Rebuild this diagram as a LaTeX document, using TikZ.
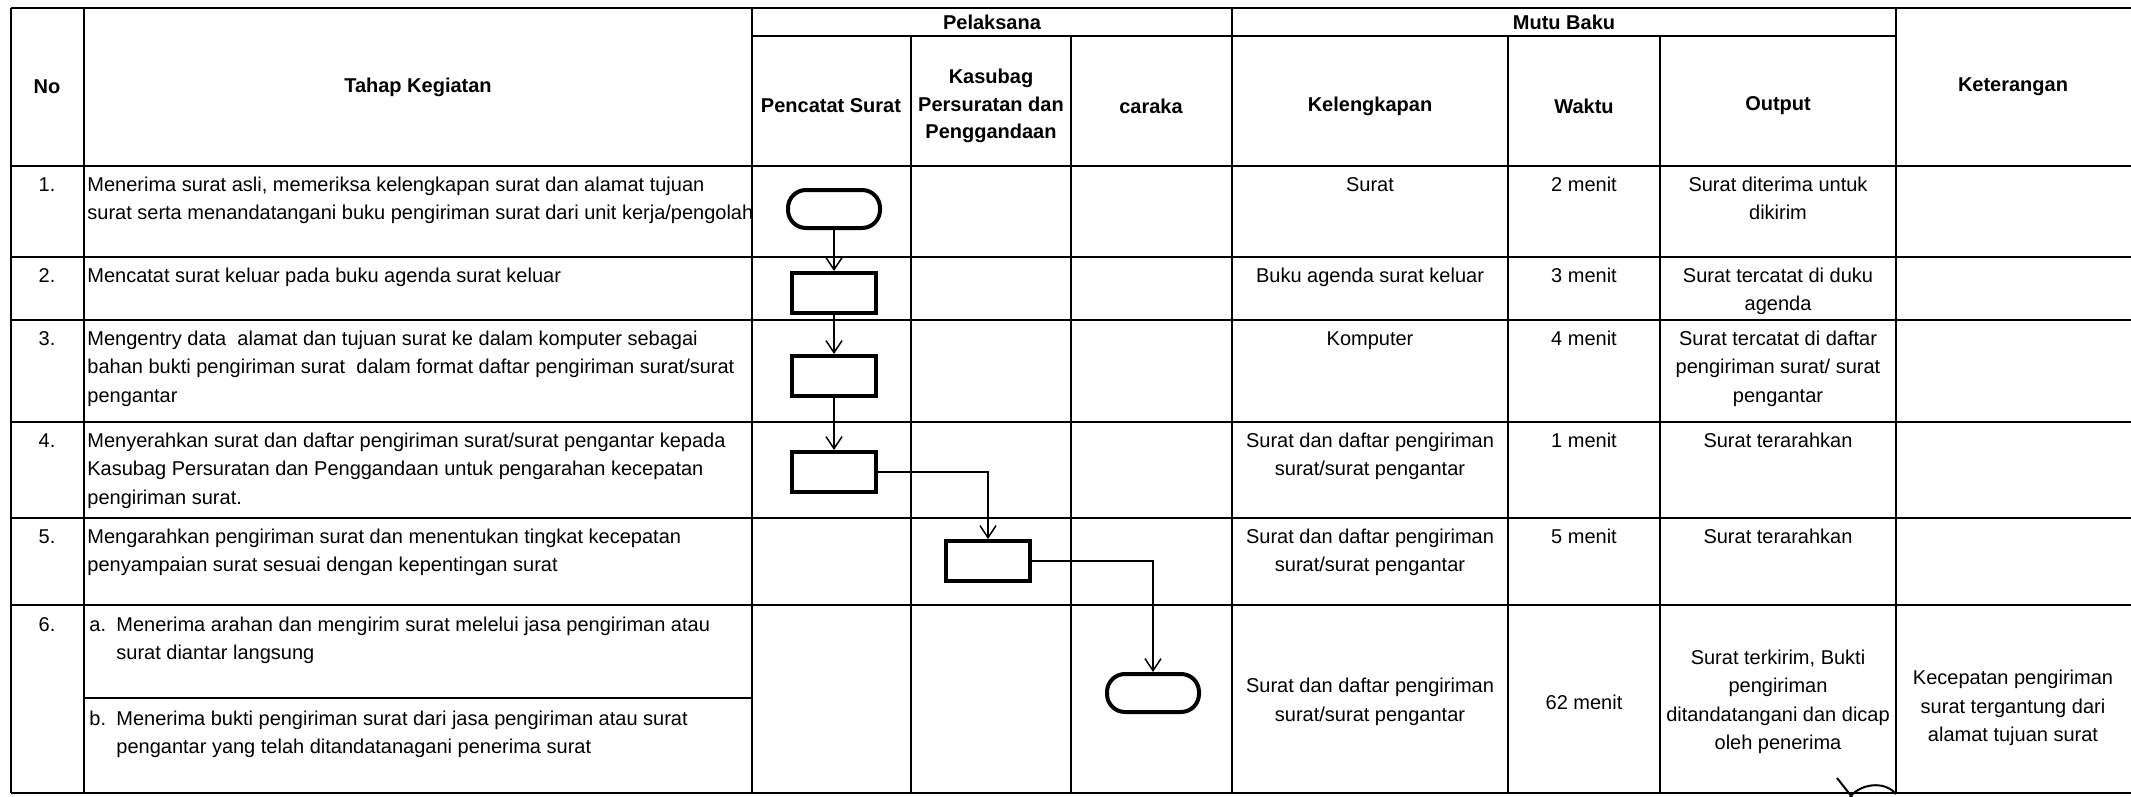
\documentclass[tikz,border=0pt]{standalone}
\usepackage{fontspec}
\setmainfont{Liberation Sans}
\usetikzlibrary{arrows.meta}
\begin{document}
\begin{tikzpicture}[x=0.5pt,y=-0.5pt,
  grid/.style={line width=1.25pt},
  proc/.style={draw, line width=2pt, minimum width=42pt, minimum height=20pt, inner sep=0pt},
  term/.style={draw, line width=2pt, rounded corners=9pt, minimum width=46pt, minimum height=19pt, inner sep=0pt},
  flow/.style={line width=0.75pt, -{Straight Barb[length=6pt,width=8pt]}},
  txt/.style={anchor=north, inner sep=0pt, font=\fontsize{10pt}{14.25pt}\selectfont, align=center},
  ltxt/.style={txt, align=left, anchor=north west},
  ctxt/.style={txt, anchor=center},
  hd/.style={inner sep=0pt, font=\fontsize{10pt}{13.75pt}\selectfont\bfseries, align=center},
]
\fill[white] (0,0) rectangle (2131,797);
\useasboundingbox (0,0) rectangle (2131,797);

% grid
\draw[grid] (11,8) -- (2131,8);
\draw[grid] (752,36) -- (1896,36);
\foreach \yy in {166,257,320,422,518,605,793} \draw[grid] (11,\yy) -- (2131,\yy);
\draw[grid] (84,698) -- (752,698);
\foreach \xx in {11,84,752,1232,1896} \draw[grid] (\xx,8) -- (\xx,793);
\foreach \xx in {911,1071,1508,1660} \draw[grid] (\xx,36) -- (\xx,793);

% headers
\node[hd] (hno) at (47,87) {No};
\node[hd] (htahap) at (418,87) {Tahap Kegiatan};
\node[hd] (hpel) at (992,22) {Pelaksana};
\node[hd] (hmutu) at (1564,22) {Mutu Baku};
\node[hd] (hket) at (2013,87) {Keterangan};
\node[hd] (hpen) at (831,106) {Pencatat Surat};
\node[hd] (hkas) at (991,106) {Kasubag\\Persuratan dan\\Penggandaan};
\node[hd] (hcar) at (1151,106) {caraka};
\node[hd] (hkel) at (1370,106) {Kelengkapan};
\node[hd] (hwak) at (1584,106) {Waktu};
\node[hd] (hout) at (1778,106) {Output};

% row 1
\node[txt] (n1) at (47,171) {\strut 1.};
\node[ltxt] (k1) at (87,171) {\strut Menerima surat asli, memeriksa kelengkapan surat dan alamat tujuan\\surat serta menandatangani buku pengiriman surat dari unit kerja/pengolah};
\node[txt] (kel1) at (1370,171) {\strut Surat};
\node[txt] (w1) at (1584,171) {\strut 2 menit};
\node[txt] (o1) at (1778,171) {\strut Surat diterima untuk\\dikirim};

% row 2
\node[txt] (n2) at (47,262) {\strut 2.};
\node[ltxt] (k2) at (87,262) {\strut Mencatat surat keluar pada buku agenda surat keluar};
\node[txt] (kel2) at (1370,262) {\strut Buku agenda surat keluar};
\node[txt] (w2) at (1584,262) {\strut 3 menit};
\node[txt] (o2) at (1778,262) {\strut Surat tercatat di duku\\agenda};

% row 3
\node[txt] (n3) at (47,325) {\strut 3.};
\node[ltxt] (k3) at (87,325) {\strut Mengentry data\ \ alamat dan tujuan surat ke dalam komputer sebagai\\bahan bukti pengiriman surat\ \ dalam format daftar pengiriman surat/surat\\pengantar};
\node[txt] (kel3) at (1370,325) {\strut Komputer};
\node[txt] (w3) at (1584,325) {\strut 4 menit};
\node[txt] (o3) at (1778,325) {\strut Surat tercatat di daftar\\pengiriman surat/ surat\\pengantar};

% row 4
\node[txt] (n4) at (47,427) {\strut 4.};
\node[ltxt] (k4) at (87,427) {\strut Menyerahkan surat dan daftar pengiriman surat/surat pengantar kepada\\Kasubag Persuratan dan Penggandaan untuk pengarahan kecepatan\\pengiriman surat.};
\node[txt] (kel4) at (1370,427) {\strut Surat dan daftar pengiriman\\surat/surat pengantar};
\node[txt] (w4) at (1584,427) {\strut 1 menit};
\node[txt] (o4) at (1778,427) {\strut Surat terarahkan};

% row 5
\node[txt] (n5) at (47,523) {\strut 5.};
\node[ltxt] (k5) at (87,523) {\strut Mengarahkan pengiriman surat dan menentukan tingkat kecepatan\\penyampaian surat sesuai dengan kepentingan surat};
\node[txt] (kel5) at (1370,523) {\strut Surat dan daftar pengiriman\\surat/surat pengantar};
\node[txt] (w5) at (1584,523) {\strut 5 menit};
\node[txt] (o5) at (1778,523) {\strut Surat terarahkan};

% row 6
\node[txt] (n6) at (47,611) {\strut 6.};
\node[ltxt] (k6am) at (89,611) {\strut a.};
\node[ltxt] (k6a) at (116,611) {\strut Menerima arahan dan mengirim surat melelui jasa pengiriman atau\\surat diantar langsung};
\node[ltxt] (k6bm) at (89,705) {\strut b.};
\node[ltxt] (k6b) at (116,705) {\strut Menerima bukti pengiriman surat dari jasa pengiriman atau surat\\pengantar yang telah ditandatanagani penerima surat};
\node[ctxt] (kel6) at (1370,702) {Surat dan daftar pengiriman\\surat/surat pengantar};
\node[ctxt] (w6) at (1584,702) {62 menit};
\node[ctxt] (o6) at (1778,702) {Surat terkirim, Bukti\\pengiriman\\ditandatangani dan dicap\\oleh penerima};
\node[ctxt] (ket6) at (2013,708) {Kecepatan pengiriman\\surat tergantung dari\\alamat tujuan surat};

% flow
\node[term] (t1) at (834,209) {};
\node[proc] (p2) at (834,293) {};
\node[proc] (p3) at (834,376) {};
\node[proc] (p4) at (834,472) {};
\node[proc] (p5) at (988,561) {};
\node[term] (t6) at (1153,693) {};
\draw[flow] (t1) -- (p2);
\draw[flow] (p2) -- (p3);
\draw[flow] (p3) -- (p4);
\draw[flow] (p4.east) -| (p5.north);
\draw[flow] (p5.east) -| (t6.north);

% scribble
\draw[line width=1pt] (1837,778) -- (1852,797);
\draw[line width=1pt] (1850,797) .. controls (1860,784) and (1884,780) .. (1896,794);
\end{tikzpicture}
\end{document}
